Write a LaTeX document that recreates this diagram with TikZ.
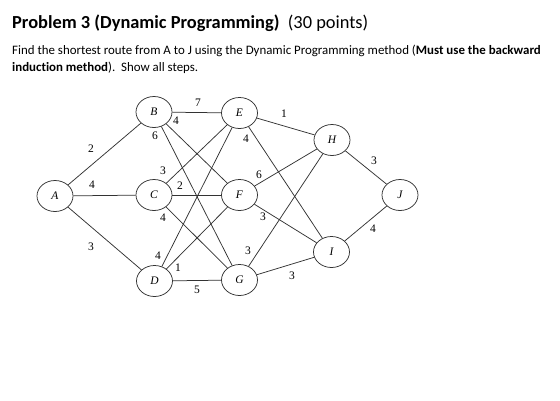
\documentclass[tikz,border=0pt]{standalone}
\usepackage{fontspec}
\setmainfont{Liberation Serif}
\newfontfamily\calib[Ligatures=NoCommon]{Carlito}
\usetikzlibrary{shapes.geometric}
\begin{document}
\begin{tikzpicture}[x=1pt,y=-1pt,
  st/.style={ellipse,draw=black!80,line width=0.75pt,minimum width=36pt,minimum height=31pt,inner sep=0pt,font=\fontsize{11.5}{11.5}\selectfont\itshape},
  ed/.style={draw=black!80,line width=0.75pt},
  lb/.style={inner sep=0pt,font=\fontsize{11.5}{11.5}\selectfont}]
\useasboundingbox (0,0) rectangle (560,400);
\node[anchor=base west,inner sep=0pt,font=\calib\fontsize{18.4}{18.4}\selectfont] (title) at (12,28) {\textbf{Problem 3 (Dynamic Programming)}\ \ (30 points)};
\node[anchor=base west,inner sep=0pt,font=\calib\fontsize{12.9}{12.9}\selectfont] (l1) at (12,54) {Find the shortest route from A to J using the Dynamic Programming method (\textbf{Must use the backward}};
\node[anchor=base west,inner sep=0pt,font=\calib\fontsize{12.9}{12.9}\selectfont] (l2) at (12,71) {\textbf{induction method}).\ \ Show all steps.};

\node[st] (A) at (55,196) {A};
\node[st] (B) at (154,112) {B};
\node[st] (C) at (154,195) {C};
\node[st] (D) at (154.5,281) {D};
\node[st] (E) at (239.5,113) {E};
\node[st] (F) at (239.5,195) {F};
\node[st] (G) at (239.5,280) {G};
\node[st] (H) at (332,140) {H};
\node[st] (I) at (331.5,252) {I};
\node[st] (J) at (400,195) {J};

\draw[ed] (A) -- (B);
\draw[ed] (A) -- (C);
\draw[ed] (A) -- (D);
\draw[ed] (B) -- (E);
\draw[ed] (B) -- (F);
\draw[ed] (B) -- (G);
\draw[ed] (C) -- (E);
\draw[ed] (C) -- (F);
\draw[ed] (C) -- (G);
\draw[ed] (D) -- (E);
\draw[ed] (D) -- (F);
\draw[ed] (D) -- (G);
\draw[ed] (E) -- (H);
\draw[ed] (E) -- (I);
\draw[ed] (F) -- (H);
\draw[ed] (F) -- (I);
\draw[ed] (G) -- (H);
\draw[ed] (G) -- (I);
\draw[ed] (H) -- (J);
\draw[ed] (I) -- (J);

\node[lb] (lab) at (91,149) {2};
\node[lb] (lac) at (92,185) {4};
\node[lb] (lad) at (91,247) {3};
\node[lb] (lbe) at (198,103) {7};
\node[lb] (lbf) at (176,121) {4};
\node[lb] (lbg) at (155,136) {6};
\node[lb] (lce) at (163,171) {3};
\node[lb] (lcf) at (180,186) {2};
\node[lb] (lcg) at (163,218) {4};
\node[lb] (lde) at (158,256) {4};
\node[lb] (ldf) at (178,268) {1};
\node[lb] (ldg) at (197,290) {5};
\node[lb] (lei) at (246,139) {4};
\node[lb] (leh) at (284,114) {1};
\node[lb] (lfh) at (259,175) {6};
\node[lb] (lfi) at (263,217) {3};
\node[lb] (lgh) at (248,251) {3};
\node[lb] (lgi) at (292,276) {3};
\node[lb] (lhj) at (374,161) {3};
\node[lb] (lij) at (373,229) {4};
\end{tikzpicture}
\end{document}
